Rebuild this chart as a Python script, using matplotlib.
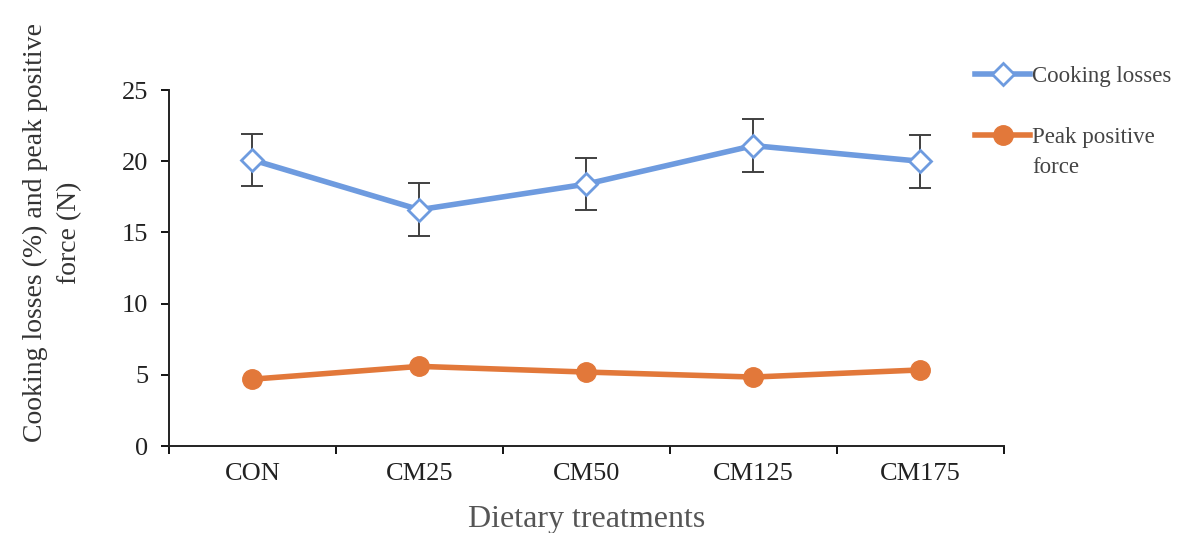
import matplotlib.pyplot as plt

# data
treatments = ['CON', 'CM25', 'CM50', 'CM125', 'CM175']
cooking_losses = [20.1, 16.6, 18.4, 21.1, 20.0]
cooking_err = [1.85, 1.85, 1.85, 1.85, 1.85]
peak_force = [4.7, 5.6, 5.2, 4.85, 5.35]

plt.rcParams['font.family'] = ['Liberation Serif', 'DejaVu Serif']

fig = plt.figure(figsize=(11.98, 5.33), dpi=100)
ax = fig.add_axes([0.141, 0.163, 0.697, 0.668])

x = list(range(len(treatments)))
blue = '#6e9bdf'
orange = '#e2783a'

ax.errorbar(x, cooking_losses, yerr=cooking_err, fmt='none', ecolor='#404040',
            elinewidth=1.4, capsize=8, capthick=1.4, zorder=2)
ax.plot(x, cooking_losses, color=blue, lw=4, marker='D', markersize=11,
        markerfacecolor='white', markeredgecolor=blue, markeredgewidth=2,
        label='Cooking losses', zorder=3)
ax.plot(x, peak_force, color=orange, lw=4, marker='o', markersize=14,
        markerfacecolor=orange, markeredgecolor=orange,
        label='Peak positive', zorder=3)

ax.set_xlim(-0.5, len(treatments) - 0.5)
ax.set_ylim(0, 25)
ax.set_yticks([0, 5, 10, 15, 20, 25])
ax.set_xticks([i - 0.5 for i in range(len(treatments) + 1)])
ax.set_xticklabels([])
ax.set_xticks(x, minor=True)
ax.set_xticklabels(treatments, minor=True)
ax.tick_params(axis='x', which='minor', length=0, pad=12, labelsize=19, labelcolor='#222222')
ax.tick_params(axis='x', which='major', direction='out', length=6, width=1.3)
ax.tick_params(axis='y', direction='out', length=6, width=1.3, labelsize=19, pad=9,
               labelcolor='#222222')

for s in ['top', 'right']:
    ax.spines[s].set_visible(False)
for s in ['left', 'bottom']:
    ax.spines[s].set_linewidth(1.4)
    ax.spines[s].set_color('#222222')

ax.set_xlabel('Dietary treatments', fontsize=23, color='#555555')
ax.xaxis.set_label_coords(0.5, -0.165)
ax.set_ylabel('Cooking losses (%) and peak positive\nforce (N)', fontsize=20,
              color='#333333', linespacing=1.45)
ax.yaxis.set_label_coords(-0.104, 0.6)

ax.legend(loc='upper left', bbox_to_anchor=(0.814, 0.876), bbox_transform=fig.transFigure,
          frameon=False, fontsize=16.5, handlelength=2.4, handletextpad=0.1,
          labelspacing=1.75, borderaxespad=0, borderpad=0, labelcolor='#444444')
# second line of the orange legend label
fig.text(0.8615, 0.686, 'force', fontsize=16.5, color='#444444', ha='left', va='center')

fig.savefig('out.png', dpi=100)
